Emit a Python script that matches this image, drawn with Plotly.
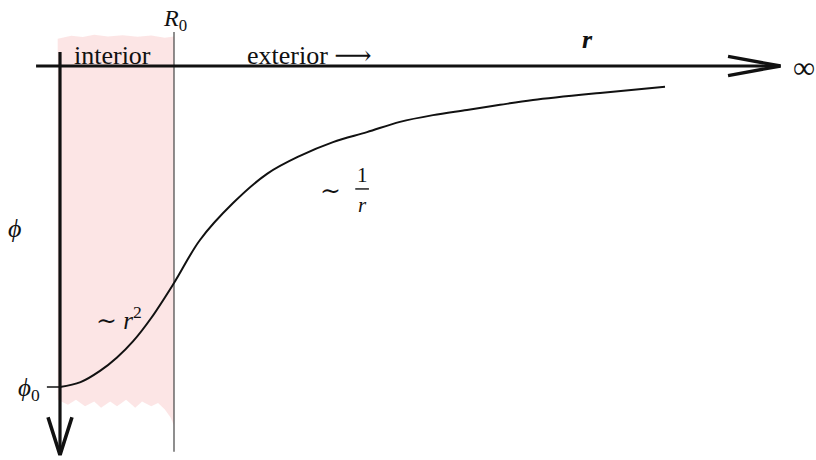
import plotly.graph_objects as go

# Potential profile of a uniform sphere: r in units of R0, phi in units of |phi0|
r_curve = [0.0, 0.18, 0.351, 0.50, 0.64, 0.80, 1.0, 1.228, 1.518, 1.816, 2.105, 2.395,
           2.693, 2.982, 3.272, 3.570, 3.860, 4.149, 4.737, 5.307]
phi_curve = [-1.0, -0.985, -0.950, -0.908, -0.858, -0.785, -0.676, -0.542, -0.427, -0.336,
             -0.280, -0.237, -0.206, -0.174, -0.153, -0.137, -0.121, -0.106, -0.084, -0.065]

R0 = 1.0
PHI0 = -1.0

# Axis extents (same units)
R_AXIS_START, R_AXIS_END = -0.21, 6.32
PHI_AXIS_TOP, PHI_AXIS_END = 0.044, -1.212
R0_LINE_TOP, R0_LINE_BOTTOM = 0.106, -1.202

# Irregular edges of the shaded interior band
band_top_r = [-0.02, 0.10, 0.20, 0.30, 0.42, 0.55, 0.68, 0.80, 0.92, 1.0]
band_top_phi = [0.085, 0.094, 0.090, 0.097, 0.092, 0.096, 0.091, 0.095, 0.088, 0.092]
band_bot_r = [1.0, 0.97, 0.92, 0.86, 0.80, 0.72, 0.66, 0.58, 0.50, 0.44, 0.36, 0.30, 0.22, 0.14, 0.07, -0.02]
band_bot_phi = [-1.12, -1.095, -1.07, -1.05, -1.06, -1.045, -1.065, -1.04, -1.06, -1.045, -1.065, -1.045, -1.06, -1.04, -1.055, -1.04]

SERIF = "Liberation Serif, Times New Roman, DejaVu Serif, serif"
INK = "#111111"

fig = go.Figure()

# shaded interior region
band_r = band_top_r + band_bot_r
band_phi = band_top_phi + band_bot_phi
fig.add_trace(go.Scatter(x=band_r, y=band_phi, fill="toself", mode="lines",
                         line=dict(width=0, color="rgba(0,0,0,0)"),
                         fillcolor="rgba(251,222,222,0.8)", hoverinfo="skip"))

# R0 boundary
fig.add_trace(go.Scatter(x=[R0, R0], y=[R0_LINE_TOP, R0_LINE_BOTTOM], mode="lines",
                         line=dict(color="#444444", width=1.2), hoverinfo="skip"))

# r axis with open arrowhead
fig.add_trace(go.Scatter(x=[R_AXIS_START, R_AXIS_END], y=[0, 0], mode="lines",
                         line=dict(color=INK, width=3), hoverinfo="skip"))
head_len_r, head_half_phi = 0.46, 0.030
fig.add_trace(go.Scatter(
    x=[R_AXIS_END - head_len_r, R_AXIS_END, R_AXIS_END - head_len_r],
    y=[head_half_phi, 0, -head_half_phi], mode="lines",
    line=dict(color=INK, width=3.4), hoverinfo="skip"))

# phi axis with arrowhead
fig.add_trace(go.Scatter(x=[0, 0], y=[PHI_AXIS_TOP, PHI_AXIS_END], mode="lines",
                         line=dict(color=INK, width=3.2), hoverinfo="skip"))
head_half_r, head_len_phi = 0.105, 0.118
fig.add_trace(go.Scatter(
    x=[-head_half_r, 0, head_half_r],
    y=[PHI_AXIS_END + head_len_phi, PHI_AXIS_END, PHI_AXIS_END + head_len_phi],
    mode="lines", line=dict(color=INK, width=3.6), hoverinfo="skip"))

# phi0 tick
fig.add_trace(go.Scatter(x=[-0.115, 0], y=[PHI0, PHI0], mode="lines",
                         line=dict(color=INK, width=1.5), hoverinfo="skip"))

# potential curve
fig.add_trace(go.Scatter(x=r_curve, y=phi_curve, mode="lines",
                         line=dict(color=INK, width=2, shape="spline", smoothing=1.0),
                         hoverinfo="skip"))

def label(x, y, text, size=22, xanchor="center", yanchor="middle"):
    fig.add_annotation(x=x, y=y, text=text, showarrow=False, xanchor=xanchor,
                       yanchor=yanchor, font=dict(family=SERIF, size=size, color=INK))

label(1.01, 0.143, "<i>R</i><sub>0</sub>", size=24)
label(0.46, 0.034, "interior", size=26)
label(2.19, 0.034, "exterior ⟶", size=26)
label(4.63, 0.083, "<b><i>r</i></b>", size=26)
label(6.41, -0.006, "∞", size=31, xanchor="left")
label(-0.40, -0.505, "<i>ϕ</i>", size=26)
label(-0.16, -1.008, "<i>ϕ</i><sub>0</sub>", size=25, xanchor="right")
label(0.52, -0.785, "∼ <i>r</i><sup>2</sup>", size=25)
label(2.37, -0.388, "∼", size=25)
label(2.65, -0.338, "1", size=21)
label(2.65, -0.432, "<i>r</i>", size=21)
fig.add_shape(type="line", x0=2.59, x1=2.71, y0=-0.383, y1=-0.383,
              line=dict(color=INK, width=1.4))

fig.update_layout(
    width=816, height=460, margin=dict(l=0, r=0, t=0, b=0),
    paper_bgcolor="white", plot_bgcolor="white", showlegend=False,
    xaxis=dict(range=[-60 / 114, 756 / 114], visible=False, fixedrange=True),
    yaxis=dict(range=[-394 / 321, 66 / 321], visible=False, fixedrange=True),
)

fig.write_html("out.html")
